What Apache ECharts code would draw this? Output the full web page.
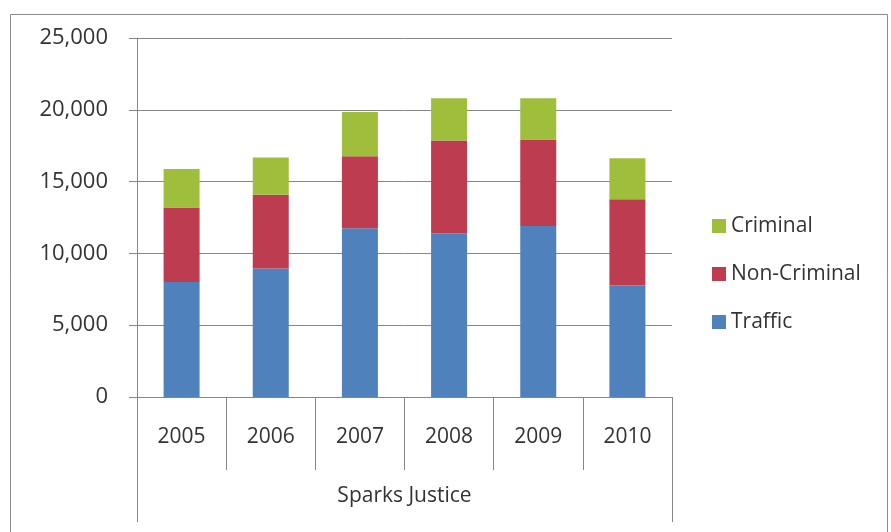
<!DOCTYPE html>
<html>
<head>
<meta charset="utf-8">
<script src="https://cdn.jsdelivr.net/npm/echarts@6/dist/echarts.min.js"></script>
<style>
html,body{margin:0;padding:0;background:#fff;}
#c{width:891px;height:532px;}
</style>
</head>
<body>
<div id="c"></div>
<script>
var years = ['2005', '2006', '2007', '2008', '2009', '2010'];
var groupLabel = ['Sparks Justice'];
var traffic = [8000, 8950, 11750, 11400, 11900, 7770];
var nonCriminal = [5200, 5140, 5020, 6460, 6040, 6000];
var criminal = [2670, 2580, 3070, 2950, 2860, 2860];
var yTicks = { min: 0, max: 25000, interval: 5000 };

var FONT = '"Open Sans", "Liberation Sans", sans-serif';
var TXT = '#333333';
var LINE = '#868686';

var chart = echarts.init(document.getElementById('c'), null, { renderer: 'canvas' });
chart.setOption({
  backgroundColor: '#ffffff',
  animation: false,
  textStyle: { fontFamily: FONT },
  graphic: [{
    type: 'rect', left: 8, top: 12, shape: { width: 877, height: 540 },
    style: { fill: 'none', stroke: '#8c8c8c', lineWidth: 1 }, silent: true, z: -1
  }],
  grid: { left: 137, right: 219, top: 38, bottom: 135 },
  legend: {
    orient: 'vertical', left: 707, top: 209,
    data: ['Criminal', 'Non-Criminal', 'Traffic'],
    itemWidth: 14, itemHeight: 14, itemGap: 24, icon: 'rect',
    textStyle: { fontFamily: FONT, fontSize: 21, color: TXT, lineHeight: 24 }
  },
  xAxis: [{
    type: 'category', data: years, position: 'bottom',
    axisLine: { lineStyle: { color: LINE, width: 1 } },
    axisTick: { show: true, length: 73, lineStyle: { color: LINE } },
    axisLabel: { margin: 30, fontSize: 21, color: TXT, fontFamily: FONT }
  }, {
    type: 'category', data: groupLabel, position: 'bottom',
    axisLine: { lineStyle: { color: LINE, width: 1 } },
    axisTick: { show: true, length: 125, lineStyle: { color: LINE } },
    axisLabel: { margin: 89, fontSize: 21, color: TXT, fontFamily: FONT }
  }],
  yAxis: {
    type: 'value', min: yTicks.min, max: yTicks.max, interval: yTicks.interval,
    axisLine: { show: true, lineStyle: { color: LINE } },
    axisTick: { show: true, length: 8, lineStyle: { color: LINE } },
    splitLine: { show: true, lineStyle: { color: LINE, width: 1 } },
    axisLabel: {
      margin: 29, fontSize: 22, color: TXT, fontFamily: FONT,
      formatter: function (v) { return v.toLocaleString('en-US'); }
    }
  },
  series: [
    { name: 'Traffic', type: 'bar', stack: 's', data: traffic, barWidth: 36, itemStyle: { color: '#4F81BD' } },
    { name: 'Non-Criminal', type: 'bar', stack: 's', data: nonCriminal, barWidth: 36, itemStyle: { color: '#BE3C50' } },
    { name: 'Criminal', type: 'bar', stack: 's', data: criminal, barWidth: 36, itemStyle: { color: '#9EBE3C' } }
  ]
});
</script>
</body>
</html>
